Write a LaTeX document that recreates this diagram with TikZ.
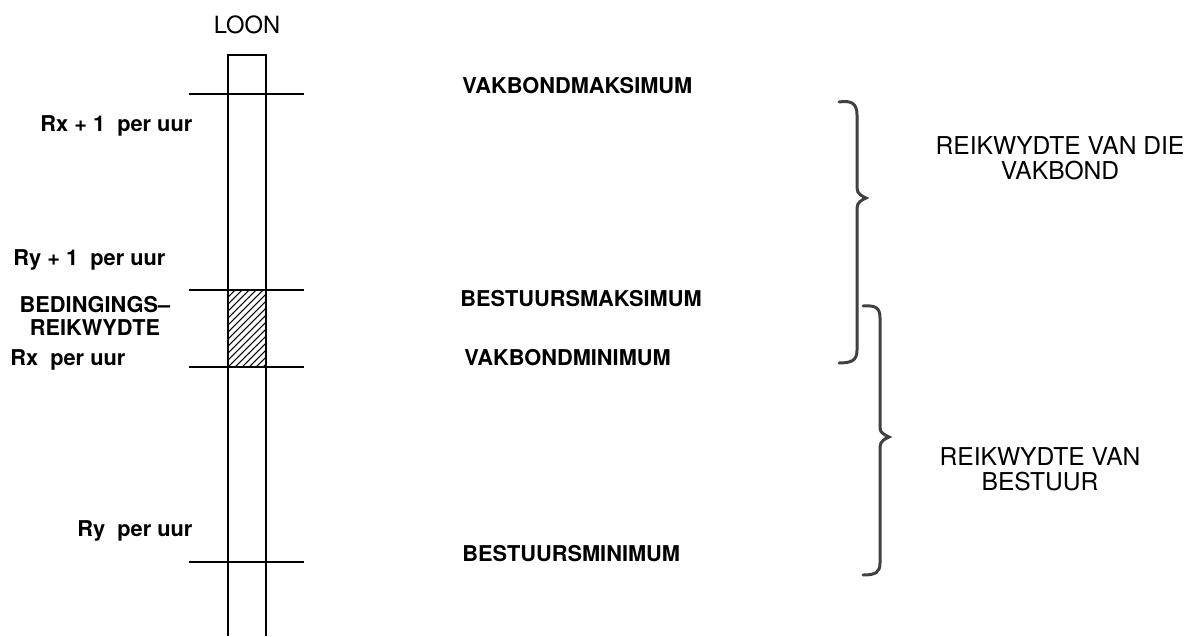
\documentclass[tikz,border=0pt]{standalone}
\usepackage{fontspec}
\setmainfont{TeX Gyre Heros}
\usepackage{tikz}

\tikzset{
  lbl/.style={font=\bfseries\fontsize{12.4}{13}\selectfont, inner sep=0pt},
  kop/.style={font=\fontsize{14}{14.2}\selectfont, inner sep=0pt, align=center},
  strook/.style={line width=1.1pt},
  akkolade/.style={line width=1.7pt, black!75, line cap=round},
}

\begin{document}
\begin{tikzpicture}[x=0.02cm,y=-0.02cm]
        \useasboundingbox (0,0) rectangle (1195,636);
        % 工资柱
        \node[font=\fontsize{13.5}{14}\selectfont, inner sep=0pt, anchor=base] (loon) at (247,33) {LOON};
        \draw[strook] (228,636) -- (228,55) -- (266,55) -- (266,636);
        % 横线
        \foreach \y in {94,290,367,562}
          \draw[line width=1.3pt] (189,\y) -- (304,\y);
        % 斜线阴影
        \begin{scope}
          \clip (228,290) rectangle (266,367);
          \foreach \a in {151,158,...,270}
            \draw[line width=0.6pt] (\a,367) -- (\a+77,290);
        \end{scope}
        % 左边标记
        \node[lbl, anchor=base west] (rxeen) at (40,131) {Rx + 1\ \ per uur};
        \node[lbl, anchor=base west] (ryeen) at (13,265) {Ry + 1\ \ per uur};
        \node[lbl, align=center] (beding) at (95,316) {BEDINGINGS--\\REIKWYDTE};
        \node[lbl, anchor=base west] (rx) at (10,365) {Rx\ \ per uur};
        \node[lbl, anchor=base west] (ry) at (77,536) {Ry\ \ per uur};
        % 中间标记
        \node[lbl, anchor=base west] (vmaks) at (462,93) {VAKBONDMAKSIMUM};
        \node[lbl, anchor=base west] (bmaks) at (460,306) {BESTUURSMAKSIMUM};
        \node[lbl, anchor=base west] (vmin) at (464,365) {VAKBONDMINIMUM};
        \node[lbl, anchor=base west] (bmin) at (462,561) {BESTUURSMINIMUM};
        % 花括号
        \draw[akkolade] (839,102) .. controls (852,100) and (857,104) .. (857,115)
          -- (857,188) .. controls (857,194) and (862,196) .. (866,198)
          .. controls (862,200) and (857,202) .. (857,208)
          -- (857,350) .. controls (857,360) and (852,363) .. (839,363);
        \draw[akkolade] (863,306) .. controls (876,305) and (880,308) .. (880,318)
          -- (880,428) .. controls (880,433) and (885,435) .. (889,437)
          .. controls (885,439) and (880,441) .. (880,447)
          -- (880,563) .. controls (880,572) and (876,575) .. (863,575);
        % 右边标记
        \node[kop] (vakbond) at (1060,158) {REIKWYDTE VAN DIE\\VAKBOND};
        \node[kop] (bestuur) at (1040,469) {REIKWYDTE VAN\\BESTUUR};
    \end{tikzpicture}
\end{document}
